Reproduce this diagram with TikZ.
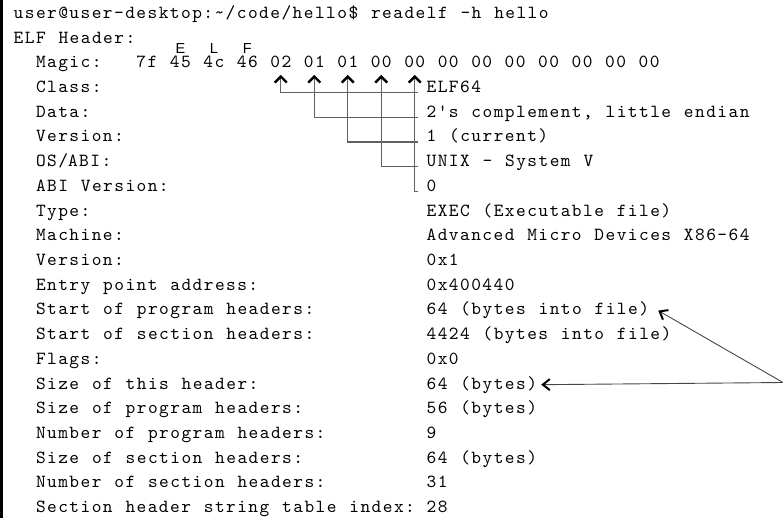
\documentclass[tikz,border=0pt]{standalone}
\usepackage{fontspec}
\setmonofont{lmmono10-regular.otf}[LetterSpace=7.83, WordSpace=1.149]
\newfontfamily\elfsans{Liberation Sans}
\usetikzlibrary{arrows.meta}
\newcommand\colx[1]{13.5+11.16*(#1)}
\newcommand\rowy[1]{-18.5-24.7*(#1)}
\tikzset{
  txt/.style={anchor=base west, inner sep=0pt, font=\ttfamily\fontsize{18.5}{24.7}\selectfont},
  conn/.style={draw=black!62, line width=1.1pt, -{Straight Barb[length=6pt,width=12pt,line width=2.4pt,color=black]}},
  ptr/.style={draw=black!72, line width=0.9pt, -{Straight Barb[length=7pt,width=11pt,line width=2pt,color=black]}},
  lbl/.style={anchor=base, inner sep=0pt, font=\elfsans\fontsize{14.5}{14.5}\selectfont},
  frame/.style={line width=2.4pt, black},
}
\begin{document}
\begin{tikzpicture}[x=1pt,y=1pt]
\useasboundingbox (0,0) rectangle (783,-518);
\fill[white] (0,0) rectangle (783,-518);
\draw[frame] (1.6,0) -- (1.6,-518);
% command line and header
\node[txt] (cmd) at ({\colx{0}},{\rowy{0}}) {user@user-desktop:\textasciitilde/code/hello\$ readelf -h hello};
\node[txt] (hdr) at ({\colx{0}},{\rowy{1}}) {ELF Header:};
\node[txt] (l2) at ({\colx{2}},{\rowy{2}}) {Magic:};
% magic bytes
\foreach \h [count=\k from 0] in {7f,45,4c,46,02,01,01,00,00,00,00,00,00,00,00,00}
  \node[txt] (b\k) at ({\colx{11+3*\k}},{\rowy{2}}) {\h};
\node[lbl] (le) at ([yshift=14pt]b1.base) {E};
\node[lbl] (ll) at ([yshift=14pt]b2.base) {L};
\node[lbl] (lf) at ([yshift=14pt]b3.base) {F};
% fields
\foreach \r/\l/\v in {
  3/Class:/ELF64,
  4/Data:/{2's complement, little endian},
  5/Version:/1 (current),
  6/OS\slash ABI:/UNIX - System V,
  7/ABI Version:/0,
  8/Type:/EXEC (Executable file),
  9/Machine:/Advanced Micro Devices X86-64,
  10/Version:/0x1,
  11/Entry point address:/0x400440,
  12/Start of program headers:/64 (bytes into file),
  13/Start of section headers:/4424 (bytes into file),
  14/Flags:/0x0,
  15/Size of this header:/64 (bytes),
  16/Size of program headers:/56 (bytes),
  17/Number of program headers:/9,
  18/Size of section headers:/64 (bytes),
  19/Number of section headers:/31,
  20/Section header string table index:/28}
{
  \node[txt] (l\r) at ({\colx{2}},{\rowy{\r}}) {\l};
  \node[txt] (v\r) at ({\colx{37}},{\rowy{\r}}) {\v};
}
% connectors from the fields to the magic bytes
\draw[conn] ([xshift=-8pt]v3.base west) -| ([yshift=-7pt]b4.base);
\draw[conn] ([xshift=-8pt]v4.base west) -| ([yshift=-7pt]b5.base);
\draw[conn] ([xshift=-8pt]v5.base west) -| ([yshift=-7pt]b6.base);
\draw[conn] ([xshift=-8pt]v6.base west) -| ([yshift=-7pt]b7.base);
\draw[conn] ([xshift=-8pt]v7.base west) -| ([yshift=-7pt]b8.base);
% pointers from the right edge
\coordinate (src) at (783,-382.5);
\draw[ptr] (src) -- ([xshift=9pt]v12.east);
\draw[ptr] (src) -- ([xshift=4pt]v15.east);
\end{tikzpicture}
\end{document}
